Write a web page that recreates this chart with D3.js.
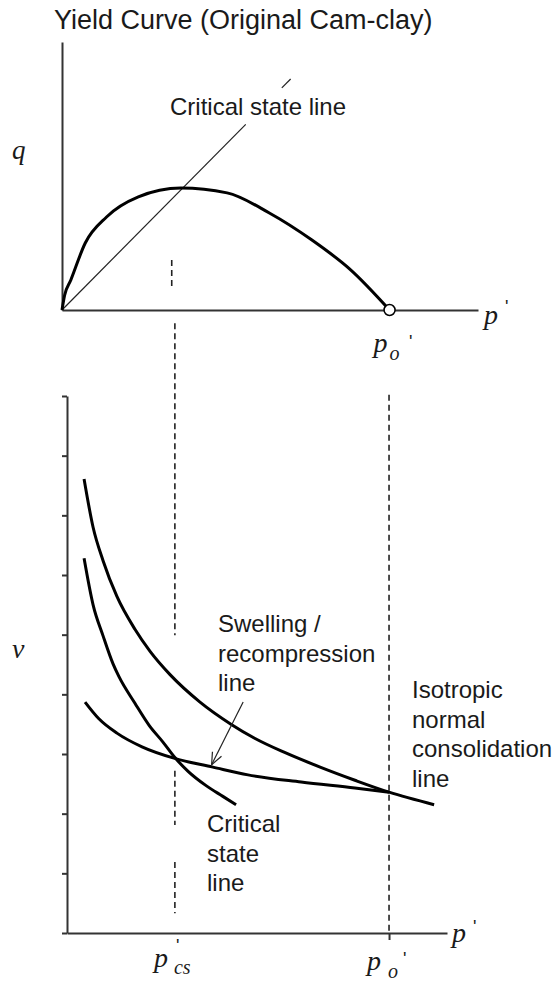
<!DOCTYPE html>
<html lang="en">
<head>
  <meta charset="UTF-8" />
  <title>Yield Curve (Original Cam-clay)</title>
  <style>
    body { margin: 0; background: #fff; }
    svg { display: block; font-family: 'Liberation Sans', Arial, sans-serif; }
    .axis path, .axis line { stroke: #333; stroke-width: 2; }
    .axis text { display: none; }
    .lbl { font-size: 24px; fill: #1a1a1a; }
    .sym { font-family: 'Liberation Serif', 'Times New Roman', serif; font-style: italic; fill: #1a1a1a; }
    .prime { font-size: 18px; fill: #1a1a1a; }
  </style>
</head>
<body>
  <div id="chart"></div>

  <script src="https://d3js.org/d3.v7.min.js"></script>
  <script>
    // ---- data ----
    // top: q - p' plane, p' normalised so that p0' = 1
    const yieldP = [0, 0.008, 0.027, 0.071, 0.136, 0.233, 0.363, 0.504, 0.633, 0.763, 0.882, 1.0];
    const yieldQ = [0, 0.055, 0.112, 0.250, 0.347, 0.422, 0.455, 0.437, 0.362, 0.261, 0.149, 0];
    const cslTopP = [[0, 0.561], [0.671, 0.698]];   // drawn segments, gap for the label
    const cslSlope = 1.235;                          // M
    const p0 = 1.0;
    const pcs = 0.335;

    // bottom: v - p' plane
    const nclP = [0.053, 0.081, 0.112, 0.155, 0.211, 0.258, 0.320, 0.413, 0.509, 0.584, 0.674, 0.786, 0.894, 1.0, 1.14];
    const nclV = [7.61, 6.80, 6.24, 5.64, 5.09, 4.72, 4.33, 3.87, 3.50, 3.26, 3.03, 2.78, 2.56, 2.36, 2.15];
    const urlP = [0.056, 0.099, 0.155, 0.233, 0.332, 0.453, 0.562, 0.727, 0.894, 1.0];
    const urlV = [3.87, 3.59, 3.35, 3.12, 2.93, 2.78, 2.65, 2.53, 2.43, 2.36];
    const cslP = [0.053, 0.081, 0.112, 0.143, 0.161, 0.211, 0.255, 0.298, 0.335, 0.376, 0.432, 0.484, 0.525];
    const cslV = [6.28, 5.50, 4.98, 4.51, 4.30, 3.85, 3.48, 3.20, 2.94, 2.71, 2.47, 2.29, 2.15];
    const vTicks = [0, 1, 2, 3, 4, 5, 6, 7, 8, 9];
    // dashed guide segments, in v units of the bottom plot
    const pcsDash = [[10.22, 4.99], [2.72, 1.81], [1.19, 0.33]];
    const p0Dash = [[9.02, 0]];
    const pcsDashTop = [[0.09, 0.194]];              // in q units
    const arrowFrom = [0.547, 3.87], arrowTo = [0.449, 2.82];

    const width = 555, height = 982;
    const svg = d3.select("#chart").append("svg")
      .attr("width", width).attr("height", height);

    const pTop = d3.scaleLinear().domain([0, 1.27]).range([62, 478]);
    const qTop = d3.scaleLinear().domain([0, 1]).range([310, 42]);
    const pBot = d3.scaleLinear().domain([0, 1.18]).range([67, 447]);
    const vBot = d3.scaleLinear().domain([0, 9]).range([933, 396]);

    // title
    svg.append("text").attr("class", "lbl")
      .attr("x", 54).attr("y", 29).style("font-size", "27px")
      .text("Yield Curve (Original Cam-clay)");

    // ---- top plot ----
    svg.append("g").attr("class", "axis")
      .attr("transform", `translate(${pTop(0)},0)`)
      .call(d3.axisLeft(qTop).tickValues([]).tickSizeOuter(0));
    svg.append("g").attr("class", "axis")
      .attr("transform", `translate(0,${qTop(0)})`)
      .call(d3.axisBottom(pTop).tickValues([]).tickSizeOuter(0));

    const dash = (sel) => sel.attr("stroke", "#222").attr("stroke-width", 1.6)
      .attr("stroke-dasharray", "6,4").attr("fill", "none");

    pcsDashTop.forEach(s => {
      svg.append("line").call(dash)
        .attr("x1", pTop(pcs)).attr("x2", pTop(pcs))
        .attr("y1", qTop(s[0])).attr("y2", qTop(s[1]));
    });

    cslTopP.forEach(s => {
      svg.append("line")
        .attr("x1", pTop(s[0])).attr("y1", qTop(s[0] * cslSlope))
        .attr("x2", pTop(s[1])).attr("y2", qTop(s[1] * cslSlope))
        .attr("stroke", "#222").attr("stroke-width", 1.2);
    });

    const yieldLine = d3.line()
      .x(i => pTop(yieldP[i])).y(i => qTop(yieldQ[i]))
      .curve(d3.curveMonotoneX);
    svg.append("path")
      .attr("d", yieldLine(d3.range(yieldP.length)))
      .attr("fill", "none").attr("stroke", "#000").attr("stroke-width", 3);

    svg.append("circle")
      .attr("cx", pTop(p0)).attr("cy", qTop(0)).attr("r", 5.5)
      .attr("fill", "#fff").attr("stroke", "#000").attr("stroke-width", 1.5);

    svg.append("text").attr("class", "lbl")
      .attr("x", 170).attr("y", 115).text("Critical state line");

    // ---- bottom plot ----
    svg.append("g").attr("class", "axis")
      .attr("transform", `translate(${pBot(0)},0)`)
      .call(d3.axisLeft(vBot).tickValues(vTicks).tickSize(5).tickSizeOuter(0).tickFormat(""))
      .selectAll(".tick line").attr("stroke-width", 1.5);
    svg.append("g").attr("class", "axis")
      .attr("transform", `translate(0,${vBot(0)})`)
      .call(d3.axisBottom(pBot).tickValues([p0]).tickSize(7).tickSizeOuter(0).tickFormat(""))
      .selectAll(".tick line").attr("stroke-width", 1.5);

    pcsDash.forEach(s => {
      svg.append("line").call(dash)
        .attr("x1", pBot(pcs)).attr("x2", pBot(pcs))
        .attr("y1", vBot(s[0])).attr("y2", vBot(s[1]));
    });
    p0Dash.forEach(s => {
      svg.append("line").call(dash)
        .attr("x1", pBot(p0)).attr("x2", pBot(p0))
        .attr("y1", vBot(s[0])).attr("y2", vBot(s[1]));
    });

    const curve = (ps, vs) => d3.line()
      .x(i => pBot(ps[i])).y(i => vBot(vs[i]))
      .curve(d3.curveMonotoneX)(d3.range(ps.length));
    [[nclP, nclV], [urlP, urlV], [cslP, cslV]].forEach(([ps, vs]) => {
      svg.append("path").attr("d", curve(ps, vs))
        .attr("fill", "none").attr("stroke", "#000").attr("stroke-width", 3);
    });

    // arrow to swelling line
    const ax1 = pBot(arrowFrom[0]), ay1 = vBot(arrowFrom[1]);
    const ax2 = pBot(arrowTo[0]), ay2 = vBot(arrowTo[1]);
    svg.append("line")
      .attr("x1", ax1).attr("y1", ay1).attr("x2", ax2).attr("y2", ay2)
      .attr("stroke", "#222").attr("stroke-width", 1.2);
    const ang = Math.atan2(ay1 - ay2, ax1 - ax2);
    [-0.4, 0.4].forEach(da => {
      svg.append("line")
        .attr("x1", ax2).attr("y1", ay2)
        .attr("x2", ax2 + 13 * Math.cos(ang + da)).attr("y2", ay2 + 13 * Math.sin(ang + da))
        .attr("stroke", "#222").attr("stroke-width", 1.2);
    });

    // multi-line labels
    const block = (x, y, lines) => {
      const t = svg.append("text").attr("class", "lbl").attr("x", x).attr("y", y);
      lines.forEach((l, i) => t.append("tspan").attr("x", x).attr("dy", i ? 29.7 : 0).text(l));
    };
    block(218, 632, ["Swelling /", "recompression", "line"]);
    block(412, 698, ["Isotropic", "normal", "consolidation", "line"]);
    block(207, 832, ["Critical", "state", "line"]);

    // ---- symbols ----
    const sym = (x, y, s, size) => svg.append("text").attr("class", "sym")
      .attr("x", x).attr("y", y).style("font-size", size + "px").text(s);
    const prime = (x, y) => svg.append("text").attr("class", "prime")
      .attr("x", x).attr("y", y).text("'");

    sym(12, 159, "q", 27);
    sym(12, 658, "ν", 28);

    // top p' and p0'
    sym(pTop(0) + 422, 324, "p", 28); prime(505, 313);
    sym(pTop(p0) - 16, 352, "p", 28); sym(pTop(p0), 360, "o", 20); prime(409, 348);

    // bottom p', p0', pcs
    sym(pBot(0) + 385, 942, "p", 28); prime(473, 933);
    sym(pBot(p0) - 22, 970, "p", 28); sym(pBot(p0) - 1, 978, "o", 20); prime(403, 965);
    sym(pBot(pcs) - 21, 967, "p", 28); sym(pBot(pcs) - 1, 974, "cs", 20); prime(176, 952);
  </script>
</body>
</html>
